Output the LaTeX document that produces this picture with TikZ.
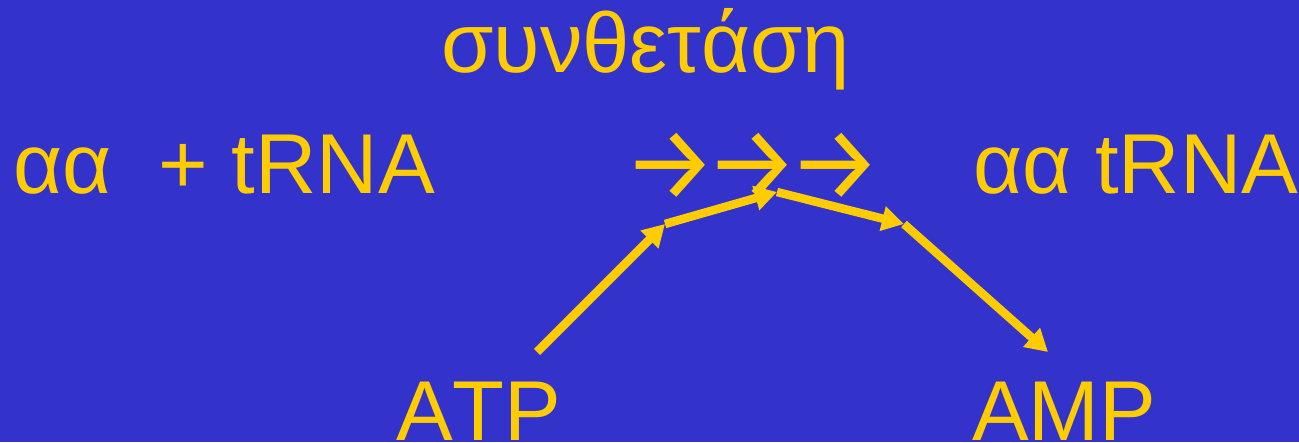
\documentclass[tikz,border=0pt]{standalone}
\usepackage{fontspec}
\setmainfont{Liberation Sans}[Kerning=Off]
\newfontfamily\arrowfont{Fira Sans}
\usetikzlibrary{arrows.meta}
\definecolor{bgblue}{HTML}{3333CC}
\definecolor{ylw}{HTML}{FFCC00}
\tikzset{
  lbl/.style={text=ylw, inner sep=0pt, anchor=base west, font=\fontsize{85}{85}\selectfont},
  arrowlbl/.style={text=ylw, inner sep=0pt, anchor=base west, font=\arrowfont\fontsize{104}{104}\selectfont},
  rxn/.style={draw=ylw, line width=8.5pt, -{Triangle[length=22pt,width=24pt]}}
}
\begin{document}
\begin{tikzpicture}[x=1pt,y=-1pt]
\useasboundingbox (0,0) rectangle (1299,442);
\fill[bgblue] (0,0) rectangle (1299,442);
\node[lbl] (title) at (441,72) {συνθετάση};
\node[lbl] (left) at (13,193) {αα\ \ + tRNA};
\node[arrowlbl] (arr) at (623,199) {→\kern-11pt→\kern-11pt→};
\node[lbl] (right) at (973,193) {αα tRNA};
\node[lbl] (atp) at (396,440) {ATP};
\node[lbl] (amp) at (972,440) {AMP};
\coordinate (p1) at (537,352);
\coordinate (p2) at (665,224);
\coordinate (p3) at (777,192);
\coordinate (p4) at (904,224);
\coordinate (p5) at (1048,352);
\draw[rxn] (p1) -- (p2);
\draw[rxn] (p2) -- (p3);
\draw[rxn] (p3) -- (p4);
\draw[rxn] (p4) -- (p5);
\end{tikzpicture}
\end{document}
